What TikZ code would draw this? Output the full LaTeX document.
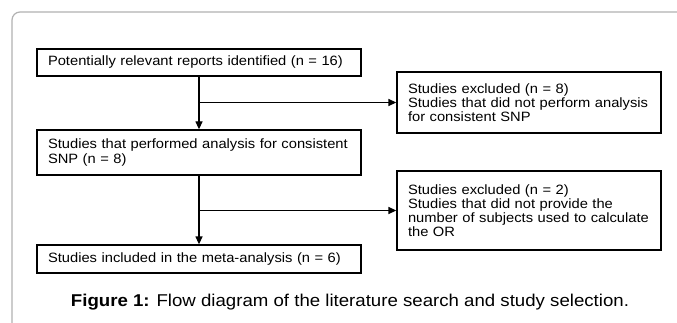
\documentclass[tikz,border=0pt]{standalone}
\usepackage{fontspec}
\setmainfont{Liberation Sans}[FakeStretch=1.09]
\usetikzlibrary{arrows.meta}
\tikzset{
  box/.style={draw=black, line width=1.3pt, rectangle, inner xsep=11pt, inner ysep=0pt,
    align=left, font=\fontsize{13.5}{14.2}\selectfont},
  link/.style={draw=black, line width=1.3pt, -{Triangle[length=8pt,width=7pt]}},
  frame/.style={draw=black!30, line width=1.2pt, rounded corners=8pt}
}
\newcommand{\boxline}[1]{\mbox{#1}}
\begin{document}
\begin{tikzpicture}[x=1pt,y=-1pt]
\useasboundingbox (0,0) rectangle (677,323);
\fill[white] (0,0) rectangle (677,323);
\draw[frame] (12,330) -- (12,12) -- (690,12);

\node[box, minimum width=324pt, minimum height=27pt, text width=302pt] (b1) at (199,62.5)
  {\boxline{Potentially relevant reports identified (n = 16)}};
\node[box, minimum width=264pt, minimum height=61pt, text width=242pt] (b2) at (529,102.5)
  {\boxline{Studies excluded (n = 8)}\\\boxline{Studies that did not perform analysis}\\\boxline{for consistent SNP}};
\node[box, minimum width=324pt, minimum height=45pt, text width=302pt] (b3) at (199,152.5)
  {\boxline{Studies that performed analysis for consistent}\\\boxline{SNP (n = 8)}};
\node[box, minimum width=264pt, minimum height=79pt, text width=242pt] (b4) at (529,210.5)
  {\boxline{Studies excluded (n = 2)}\\\boxline{Studies that did not provide the}\\\boxline{number of subjects used to calculate}\\\boxline{the OR}};
\node[box, minimum width=324pt, minimum height=28pt, text width=302pt] (b5) at (199,259)
  {\boxline{Studies included in the meta-analysis (n = 6)}};

\coordinate (j1) at (b1.south |- b2.west);
\coordinate (j2) at (b3.south |- b4.west);
\draw[link] (b1.south) -- (b3.north);
\draw[link] (j1) -- (b2.west);
\draw[link] (b3.south) -- (b5.north);
\draw[link] (j2) -- (b4.west);

\node[font=\fontsize{17.1}{19}\selectfont] (cap) at (350,302)
  {\textbf{Figure 1:} Flow diagram of the literature search and study selection.};
\end{tikzpicture}
\end{document}
